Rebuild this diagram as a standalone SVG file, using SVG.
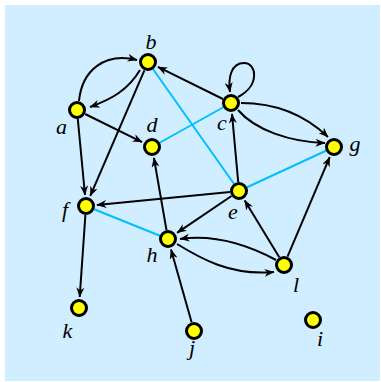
<svg xmlns="http://www.w3.org/2000/svg" width="381" height="382" viewBox="0 0 381 382">
<style>
.bg{fill:#d0eeff}
.e{fill:none;stroke:#000;stroke-width:2;marker-end:url(#ah)}
.u{fill:none;stroke:#00bfff;stroke-width:2}
.n{fill:#ffff00;stroke:#000;stroke-width:3}
.t{font-family:'Liberation Serif','DejaVu Serif',serif;font-style:italic;font-size:22px;fill:#000;text-anchor:middle}
</style>
<defs>
<marker id="ah" markerUnits="userSpaceOnUse" markerWidth="10" markerHeight="8" viewBox="0 0 10 8" refX="9.5" refY="4" orient="auto">
<path d="M0,0 L10,4 L0,8 L3,4 z" fill="#000"/>
</marker>
</defs>
<rect class="bg" x="5" y="5" width="375" height="376"/>
<g id="connectors">
<line class="u" x1="148" y1="62" x2="239" y2="191"/>
<line class="u" x1="231" y1="103" x2="152" y2="147"/>
<line class="u" x1="239" y1="191" x2="334" y2="147"/>
<line class="u" x1="86" y1="206" x2="168" y2="239"/>
<path class="e" d="M79,101 C82,70 105,52 137,60"/>
<path class="e" d="M140,70 C128,90 112,99 90,107"/>
<line class="e" x1="85.1" y1="114" x2="142.1" y2="142.1"/>
<line class="e" x1="77.8" y1="119" x2="85" y2="195"/>
<line class="e" x1="144.4" y1="70.3" x2="90.3" y2="195.9"/>
<line class="e" x1="222.9" y1="99" x2="157.9" y2="66.9"/>
<path class="e" d="M238,97 C260,86 257,63 244,63 C231,63 228,78 230,92"/>
<path class="e" d="M241,103 C275,103 305,115 328,137"/>
<path class="e" d="M238,110 C255,130 290,142 325,143"/>
<line class="e" x1="238.2" y1="182" x2="232" y2="113.9"/>
<line class="e" x1="230" y1="191.9" x2="96.9" y2="204.9"/>
<line class="e" x1="231.5" y1="196" x2="177.1" y2="232.8"/>
<line class="e" x1="85.4" y1="215" x2="79.7" y2="297"/>
<line class="e" x1="166.5" y1="230.1" x2="153.9" y2="157.8"/>
<line class="e" x1="279.3" y1="257.3" x2="244.7" y2="200.4"/>
<line class="e" x1="287.5" y1="256.7" x2="329.7" y2="157.1"/>
<line class="e" x1="191.6" y1="322.3" x2="171" y2="249.6"/>
<path class="e" d="M276,260 C250,246 215,234 180,239"/>
<path class="e" d="M177,244 C200,258 230,276 274,272"/>
</g>
<g id="a"><circle class="n" cx="77" cy="110" r="7.5"/><text class="t" x="61.5" y="134">a</text></g>
<g id="b"><circle class="n" cx="148" cy="62" r="7.5"/><text class="t" x="151" y="49">b</text></g>
<g id="c"><circle class="n" cx="231" cy="103" r="7.5"/><text class="t" x="222" y="130">c</text></g>
<g id="d"><circle class="n" cx="152" cy="147" r="7.5"/><text class="t" x="152" y="131.5">d</text></g>
<g id="e"><circle class="n" cx="239" cy="191" r="7.5"/><text class="t" x="233" y="219">e</text></g>
<g id="f"><circle class="n" cx="86" cy="206" r="7.5"/><text class="t" x="65" y="216.5">f</text></g>
<g id="g"><circle class="n" cx="334" cy="147" r="7.5"/><text class="t" x="355" y="151">g</text></g>
<g id="h"><circle class="n" cx="168" cy="239" r="7.5"/><text class="t" x="152" y="261.5">h</text></g>
<g id="i"><circle class="n" cx="313" cy="320" r="7.5"/><text class="t" x="320" y="346">i</text></g>
<g id="j"><circle class="n" cx="194" cy="331" r="7.5"/><text class="t" x="192" y="355">j</text></g>
<g id="k"><circle class="n" cx="79" cy="308" r="7.5"/><text class="t" x="67.5" y="338">k</text></g>
<g id="l"><circle class="n" cx="284" cy="265" r="7.5"/><text class="t" x="296" y="291.5">l</text></g>
</svg>
